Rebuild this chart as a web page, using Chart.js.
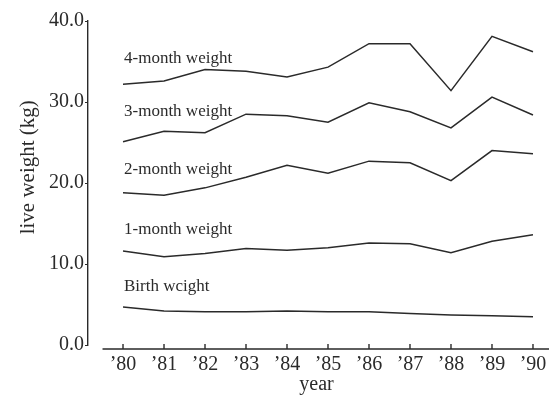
<!DOCTYPE html>
<html lang="en">
<head>
    <meta charset="UTF-8">
    <title>Live weight by year</title>
    <script src="https://cdn.jsdelivr.net/npm/chart.js"></script>
    <style>
        body {
            margin: 0;
            background-color: #fff;
        }
        #weightChart {
            display: block;
        }
    </style>
</head>
<body>

<canvas id="weightChart" width="549" height="397"></canvas>

<script>
    // data
    const years = [1980, 1981, 1982, 1983, 1984, 1985, 1986, 1987, 1988, 1989, 1990];
    const birthWeight  = [4.7, 4.2, 4.1, 4.1, 4.2, 4.1, 4.1, 3.9, 3.7, 3.6, 3.5];
    const month1Weight = [11.6, 10.9, 11.3, 11.9, 11.7, 12.0, 12.6, 12.5, 11.4, 12.8, 13.6];
    const month2Weight = [18.8, 18.5, 19.4, 20.7, 22.2, 21.2, 22.7, 22.5, 20.3, 24.0, 23.6];
    const month3Weight = [25.1, 26.4, 26.2, 28.5, 28.3, 27.5, 29.9, 28.8, 26.8, 30.6, 28.4];
    const month4Weight = [32.2, 32.6, 34.0, 33.8, 33.1, 34.3, 37.2, 37.2, 31.4, 38.1, 36.2];
    const seriesNames = ['Birth wcight', '1-month weight', '2-month weight', '3-month weight', '4-month weight'];
    const yTicks = [0, 10, 20, 30, 40];

    const ink = '#2a2a2a';
    const serif = "'Liberation Serif', 'Times New Roman', serif";
    // how far (px) each series name sits above its first point
    const nameLift = [20, 22, 23, 30, 26];

    function toPoints(values) {
        return values.map((v, i) => ({ x: years[i], y: v }));
    }

    // draws the detached x axis line with upward tick marks, and the series names
    const paperPlugin = {
        id: 'paper',
        afterDraw(chart) {
            const ctx = chart.ctx;
            const xs = chart.scales.x;
            const ys = chart.scales.y;
            const area = chart.chartArea;
            const axisY = area.bottom + 4;

            ctx.save();
            ctx.strokeStyle = ink;
            ctx.lineWidth = 1.4;
            ctx.beginPath();
            ctx.moveTo(xs.getPixelForValue(years[0] - 0.5), axisY);
            ctx.lineTo(area.right + 4, axisY);
            years.forEach(yr => {
                const px = xs.getPixelForValue(yr);
                ctx.moveTo(px, axisY);
                ctx.lineTo(px, axisY - 5);
            });
            ctx.stroke();

            // series names sit above the start of each line
            ctx.fillStyle = ink;
            ctx.font = '17px ' + serif;
            ctx.textBaseline = 'middle';
            ctx.textAlign = 'left';
            chart.data.datasets.forEach((ds, i) => {
                const first = ds.data[0];
                const px = xs.getPixelForValue(first.x);
                const py = ys.getPixelForValue(first.y);
                ctx.fillText(ds.label, px + 1, py - nameLift[i]);
            });
            ctx.restore();
        }
    };

    function createWeightChart() {
        const ctx = document.getElementById('weightChart').getContext('2d');
        const allSeries = [birthWeight, month1Weight, month2Weight, month3Weight, month4Weight];

        new Chart(ctx, {
            type: 'line',
            data: {
                datasets: allSeries.map((vals, i) => ({
                    label: seriesNames[i],
                    data: toPoints(vals),
                    borderColor: ink,
                    borderWidth: 1.5,
                    pointRadius: 0,
                    tension: 0,
                    fill: false
                }))
            },
            options: {
                responsive: false,
                animation: false,
                layout: {
                    padding: { top: 21, right: 4, bottom: 0, left: 0 }
                },
                plugins: {
                    legend: { display: false },
                    tooltip: { enabled: false }
                },
                scales: {
                    x: {
                        type: 'linear',
                        min: 1979.146,
                        max: 1990.293,
                        afterBuildTicks(scale) {
                            scale.ticks = years.map(v => ({ value: v }));
                        },
                        afterFit(scale) {
                            scale.height = 52;
                        },
                        border: { display: false },
                        grid: { display: false },
                        ticks: {
                            color: ink,
                            font: { family: serif, size: 20 },
                            padding: 0,
                            maxRotation: 0,
                            autoSkip: false,
                            callback: v => '\u2019' + String(v).slice(2)
                        },
                        title: {
                            display: true,
                            text: 'year',
                            color: ink,
                            font: { family: serif, size: 20 },
                            padding: { top: 0, bottom: 0 }
                        }
                    },
                    y: {
                        min: 0,
                        max: 40,
                        afterBuildTicks(scale) {
                            scale.ticks = yTicks.map(v => ({ value: v }));
                        },
                        afterFit(scale) {
                            scale.width = 88;
                        },
                        border: { display: true, color: ink, width: 1.4 },
                        grid: {
                            drawOnChartArea: false,
                            color: ink,
                            tickLength: 3
                        },
                        ticks: {
                            color: ink,
                            font: { family: serif, size: 20 },
                            padding: 1,
                            callback: v => v.toFixed(1)
                        },
                        title: {
                            display: true,
                            // leading spaces lift the visible text toward the top, as in the original
                            text: '\u00a0\u00a0\u00a0\u00a0\u00a0\u00a0live weight (kg)',
                            color: ink,
                            font: { family: serif, size: 21 },
                            padding: { top: 16, bottom: 0 }
                        }
                    }
                }
            },
            plugins: [paperPlugin]
        });
    }

    window.onload = function() {
        createWeightChart();
    };
</script>

</body>
</html>
